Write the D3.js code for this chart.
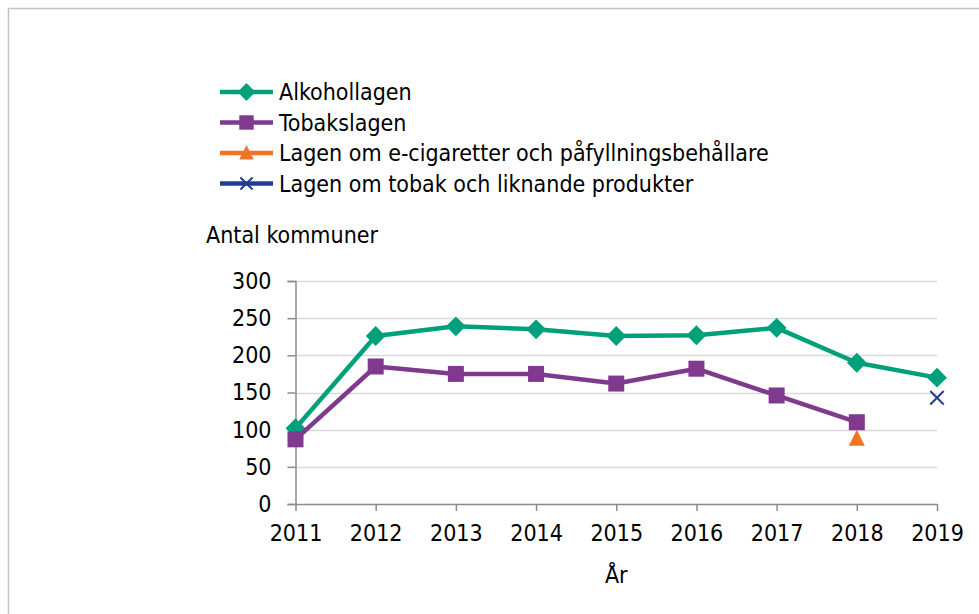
<!DOCTYPE html>
<html>
<head>
<meta charset="utf-8">
<script src="https://cdn.jsdelivr.net/npm/d3@7"></script>
<style>
  html, body { margin: 0; padding: 0; background: #fff; }
  svg text { font-family: "DejaVu Sans Condensed", "DejaVu Sans", sans-serif; fill: #000; }
</style>
</head>
<body>
<div id="chart"></div>
<script>
// Dati
const years        = [2011, 2012, 2013, 2014, 2015, 2016, 2017, 2018, 2019];
const alkohol      = [102, 226, 239, 235, 226, 227, 237, 190, 170];
const tobak        = [87, 185, 175, 175, 162, 182, 146, 110, null];
const ecig         = [null, null, null, null, null, null, null, 88, null];
const tobakLikn    = [null, null, null, null, null, null, null, null, 143];
const yTicks       = [0, 50, 100, 150, 200, 250, 300];

const seriesNames  = ['Alkohollagen', 'Tobakslagen',
  'Lagen om e-cigaretter och påfyllningsbehållare',
  'Lagen om tobak och liknande produkter'];
const seriesColors = ['#00A07A', '#7F3A8F', '#F07427', '#233E8C'];
const seriesShapes = ['diamond', 'square', 'triangle', 'cross'];

const W = 979, H = 614;
const FS = 23; // dimensione font

const svg = d3.select('#chart').append('svg')
  .attr('width', W).attr('height', H);

// cornice esterna
svg.append('rect')
  .attr('x', 8.5).attr('y', 8.5)
  .attr('width', W + 10).attr('height', H + 10)
  .attr('fill', 'none').attr('stroke', '#c4c4c4').attr('stroke-width', 1.5);

const plot = { left: 295.5, right: 937, top: 281, bottom: 504 };

const x = d3.scalePoint().domain(years).range([plot.left, plot.right]);
const y = d3.scaleLinear().domain([0, 300]).range([plot.bottom, plot.top]);

// griglia
svg.append('g')
  .selectAll('line')
  .data(yTicks.filter(d => d > 0))
  .enter().append('line')
  .attr('x1', plot.left).attr('x2', plot.right)
  .attr('y1', d => Math.round(y(d)) + 0.5).attr('y2', d => Math.round(y(d)) + 0.5)
  .attr('stroke', '#d9d9d9').attr('stroke-width', 1.5);

// asse y
const yAxis = svg.append('g')
  .attr('transform', `translate(${plot.left},0)`)
  .call(d3.axisLeft(y).tickValues(yTicks).tickSize(8).tickPadding(16));
yAxis.select('.domain').attr('stroke', '#8c8c8c').attr('stroke-width', 1.5);
yAxis.selectAll('.tick line').attr('stroke', '#8c8c8c').attr('stroke-width', 1.5);
yAxis.selectAll('text').attr('font-size', FS).attr('fill', '#000')
  .attr('font-family', '"DejaVu Sans Condensed", "DejaVu Sans", sans-serif');

// asse x
const xAxis = svg.append('g')
  .attr('transform', `translate(0,${plot.bottom})`)
  .call(d3.axisBottom(x).tickSize(7).tickPadding(14).tickSizeOuter(0));
xAxis.select('.domain').attr('stroke', '#8c8c8c').attr('stroke-width', 1.5);
xAxis.selectAll('.tick line').attr('stroke', '#8c8c8c').attr('stroke-width', 1.5);
xAxis.selectAll('text').attr('font-size', FS).attr('fill', '#000')
  .attr('font-family', '"DejaVu Sans Condensed", "DejaVu Sans", sans-serif');

// titoli assi
svg.append('text')
  .attr('x', 206).attr('y', 243)
  .attr('font-size', FS)
  .text('Antal kommuner');

svg.append('text')
  .attr('x', (plot.left + plot.right) / 2).attr('y', 583)
  .attr('text-anchor', 'middle')
  .attr('font-size', FS)
  .text('År');

// simboli
function drawMarker(g, shape, color, cx, cy, size) {
  if (shape === 'diamond') {
    const s = size * 0.62;
    g.append('path')
      .attr('d', `M${cx},${cy - s}L${cx + s},${cy}L${cx},${cy + s}L${cx - s},${cy}Z`)
      .attr('fill', color);
  } else if (shape === 'square') {
    g.append('rect')
      .attr('x', cx - size / 2).attr('y', cy - size / 2)
      .attr('width', size).attr('height', size)
      .attr('fill', color);
  } else if (shape === 'triangle') {
    const s = size / 2;
    g.append('path')
      .attr('d', `M${cx},${cy - s * 1.1}L${cx + s},${cy + s * 0.9}L${cx - s},${cy + s * 0.9}Z`)
      .attr('fill', color);
  } else if (shape === 'cross') {
    const s = size * 0.42;
    g.append('path')
      .attr('d', `M${cx - s},${cy - s}L${cx + s},${cy + s}M${cx - s},${cy + s}L${cx + s},${cy - s}`)
      .attr('stroke', color).attr('stroke-width', 2).attr('fill', 'none');
  }
}

const allSeries = [alkohol, tobak, ecig, tobakLikn];
const sizes = [16, 16, 16, 16];

const line = d3.line()
  .defined(d => d.v !== null)
  .x(d => x(d.year))
  .y(d => y(d.v));

allSeries.forEach((vals, i) => {
  const pts = years.map((yr, j) => ({ year: yr, v: vals[j] }));
  const g = svg.append('g');
  g.append('path')
    .datum(pts)
    .attr('d', line)
    .attr('fill', 'none')
    .attr('stroke', seriesColors[i])
    .attr('stroke-width', 4.5)
    .attr('stroke-linejoin', 'round');
  pts.filter(d => d.v !== null).forEach(d => {
    drawMarker(g, seriesShapes[i], seriesColors[i], x(d.year), y(d.v), sizes[i]);
  });
});

// legenda
const legend = svg.append('g');
seriesNames.forEach((name, i) => {
  const cy = 92 + i * 30.5;
  legend.append('line')
    .attr('x1', 220).attr('x2', 273)
    .attr('y1', cy).attr('y2', cy)
    .attr('stroke', seriesColors[i]).attr('stroke-width', 4.5);
  drawMarker(legend, seriesShapes[i], seriesColors[i], 246.5, cy, sizes[i] * 0.9);
  legend.append('text')
    .attr('x', 279).attr('y', cy)
    .attr('dy', '0.36em')
    .attr('font-size', FS)
    .text(name);
});
</script>
</body>
</html>
